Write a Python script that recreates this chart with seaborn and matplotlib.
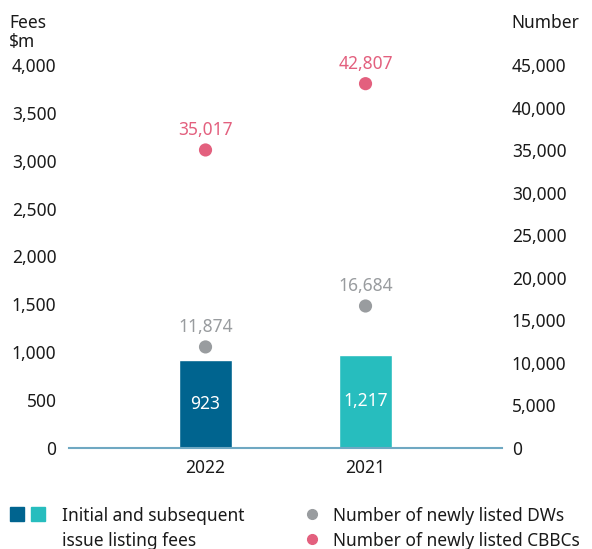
import matplotlib
matplotlib.use("Agg")
import numpy as np
import pandas as pd
import seaborn as sns
from matplotlib import pyplot as plt
from matplotlib.lines import Line2D

years = ["2022", "2021"]
fees = [923, 974]
fee_labels = ["923", "1,217"]
dws = [11874, 16684]
cbbcs = [35017, 42807]

fee_colors = ["#00648f", "#27bdbe"]
dw_color = "#999c9f"
cbbc_color = "#e3607e"
text_color = "#1a1a1a"
FS = 12.5

sns.set_style("white")
plt.rcParams["font.family"] = ["Noto Sans", "DejaVu Sans"]
plt.rcParams["font.size"] = FS

df = pd.DataFrame({"year": years, "fees": fees, "dws": dws, "cbbcs": cbbcs})

fig = plt.figure(figsize=(5.92, 5.49), dpi=100)
ax = fig.add_axes([0.1166, 0.184, 0.7314, 0.6976])

sns.barplot(
    data=df, x="year", y="fees", hue="year", palette=fee_colors,
    order=years, width=0.33, saturation=1, legend=False, ax=ax,
)
for cont, lab in zip(ax.containers, fee_labels):
    ax.bar_label(cont, labels=[lab], label_type="center", color="white",
                 fontsize=FS)

ax.set_ylim(0, 4000)
ax.set_xlim(-0.853, 1.853)
ax.set_yticks(np.arange(0, 4001, 500))
ax.set_yticklabels([f"{v:,}" for v in range(0, 4001, 500)])
ax.set_xlabel("")
ax.set_ylabel("")
for s in ["top", "left", "right"]:
    ax.spines[s].set_visible(False)
ax.spines["bottom"].set_color("#6fa8c2")
ax.spines["bottom"].set_linewidth(1.5)
ax.tick_params(axis="both", length=0, labelsize=FS, colors=text_color)
ax.tick_params(axis="y", pad=9)
ax.tick_params(axis="x", pad=8)

ax2 = ax.twinx()
pos = np.arange(len(years))
sns.scatterplot(x=pos, y=dws, color=dw_color, s=90, edgecolor="none",
                ax=ax2, clip_on=False, zorder=5)
sns.scatterplot(x=pos, y=cbbcs, color=cbbc_color, s=90, edgecolor="none",
                ax=ax2, clip_on=False, zorder=5)
for x, v in zip(pos, dws):
    ax2.annotate(f"{v:,}", (x, v), xytext=(0, 8), textcoords="offset points",
                 ha="center", va="bottom", color=dw_color, fontsize=FS)
for x, v in zip(pos, cbbcs):
    ax2.annotate(f"{v:,}", (x, v), xytext=(0, 8), textcoords="offset points",
                 ha="center", va="bottom", color=cbbc_color, fontsize=FS)

ax2.set_ylim(0, 45000)
ax2.set_yticks(np.arange(0, 45001, 5000))
ax2.set_yticklabels([f"{v:,}" for v in range(0, 45001, 5000)])
for s in ["top", "left", "right", "bottom"]:
    ax2.spines[s].set_visible(False)
ax2.tick_params(axis="y", length=0, labelsize=FS, colors=text_color, pad=7)
ax2.set_ylabel("")

fig.text(0.015, 0.975, "Fees\n$m", ha="left", va="top", fontsize=FS,
         color=text_color, linespacing=1.1)
fig.text(0.863, 0.975, "Number", ha="left", va="top", fontsize=FS,
         color=text_color)

# legend, laid out by hand
tf = fig.transFigure
y1, y2 = 0.0638, 0.0182
for xm, c in zip([0.029, 0.065], fee_colors):
    fig.add_artist(Line2D([xm], [y1], marker="s", markersize=9.5, color=c,
                          linestyle="none", transform=tf))
fig.text(0.1047, y1, "Initial and subsequent", ha="left", va="center_baseline",
         fontsize=FS, color=text_color)
fig.text(0.1047, y2, "issue listing fees", ha="left", va="center_baseline",
         fontsize=FS, color=text_color)

for yy, c, lab in zip([y1, 0.019], [dw_color, cbbc_color],
                      ["Number of newly listed DWs", "Number of newly listed CBBCs"]):
    fig.add_artist(Line2D([0.527], [yy], marker="o", markersize=7, color=c,
                          linestyle="none", transform=tf))
    fig.text(0.5625, yy, lab, ha="left", va="center_baseline", fontsize=FS,
             color=text_color)

fig.savefig("out.png", dpi=100)
